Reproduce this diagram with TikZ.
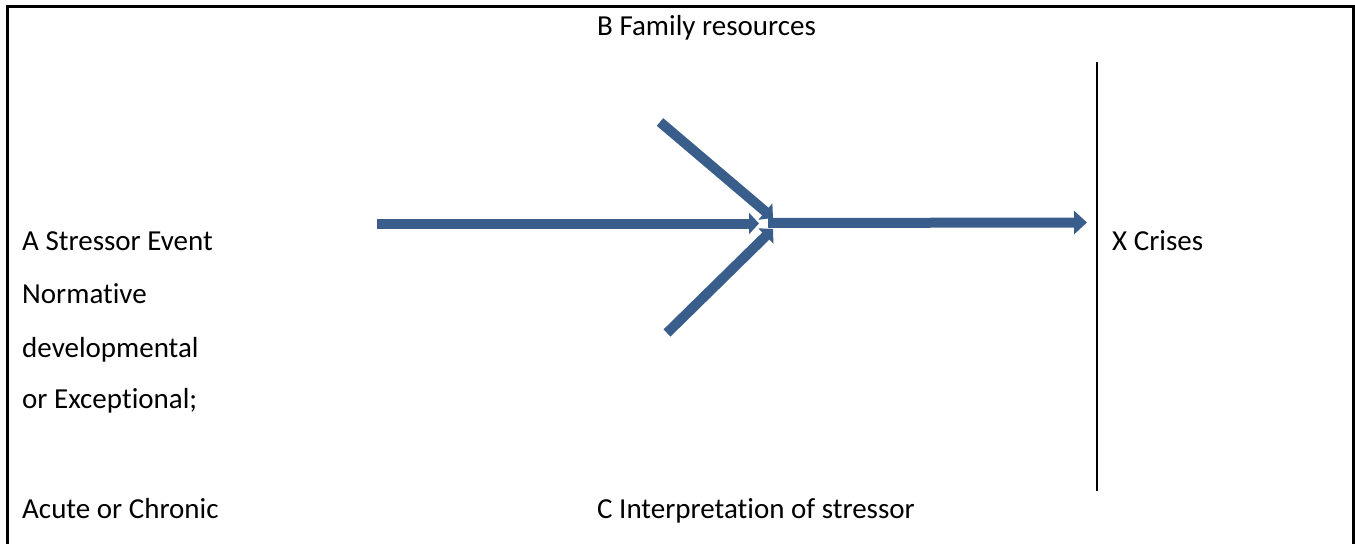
\documentclass[tikz,border=0pt]{standalone}
\usepackage{fontspec}
\setmainfont{Carlito}[Ligatures=NoCommon]
\usetikzlibrary{arrows.meta}
\definecolor{arrowblue}{RGB}{58,94,140}
\tikzset{
  lbl/.style={anchor=base west,inner sep=0pt,font=\fontsize{29}{35}\selectfont},
  thickarrow/.style={draw=arrowblue,line width=10pt,-{Triangle[length=10pt,width=21pt]}},
  bigarrow/.style={draw=arrowblue,line width=10pt,-{Triangle[length=13pt,width=23pt]}},
  frame/.style={draw=black,line width=3pt},
}
\begin{document}
\begin{tikzpicture}[x=1pt,y=-1pt]
\useasboundingbox (0,0) rectangle (1355,544);
% frame (open at the bottom)
\draw[frame] (7,544) -- (7,6) -- (1353,6) -- (1353,544);
% labels
\node[lbl] (b) at (597,35) {B Family resources};
\node[lbl] (a1) at (22,250) {A Stressor Event};
\node[lbl] (a2) at (22,303) {Normative};
\node[lbl] (a3) at (22,357) {developmental};
\node[lbl] (a4) at (22,408) {or Exceptional;};
\node[lbl] (a5) at (22,518) {Acute or Chronic};
\node[lbl] (c) at (597,518) {C Interpretation of stressor};
\node[lbl] (x) at (1112,250) {X Crises};
% vertical bar
\coordinate (vtop) at (1097,62);
\coordinate (vbot) at (1097,491);
\draw[black,line width=2pt] (vtop) -- (vbot);
% arrows
\coordinate (hs) at (377,223.5);
\coordinate (he) at (759,223.5);
\coordinate (us) at (660,122);
\coordinate (ue) at (773,218);
\coordinate (ls) at (667,333);
\coordinate (le) at (773,229);
\coordinate (os) at (768,223);
\coordinate (oe) at (1087,222.5);
\draw[thickarrow] (hs) -- (he);
\draw[thickarrow] (us) -- (ue);
\draw[thickarrow] (ls) -- (le);
\draw[bigarrow] (os) -- (oe);
\end{tikzpicture}
\end{document}
